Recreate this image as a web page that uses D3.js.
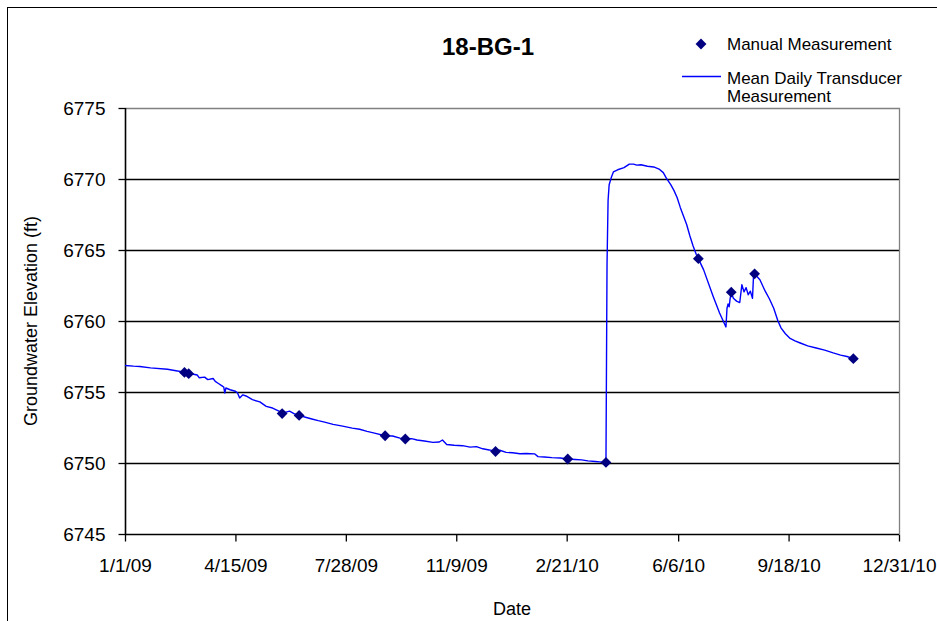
<!DOCTYPE html>
<html><head><meta charset="utf-8">
<script src="https://cdn.jsdelivr.net/npm/d3@7"></script>
<style>
html,body{margin:0;padding:0;background:#fff;overflow:hidden;}
svg{display:block;font-family:"Liberation Sans",Arial,sans-serif;}
</style></head>
<body>
<svg id="chart" width="937" height="621"></svg>
<script>
const title = "18-BG-1";
const xTitle = "Date";
const yTitle = "Groundwater Elevation (ft)";
const legendManual = "Manual Measurement";
const legendLine = ["Mean Daily Transducer", "Measurement"];

const xTickLabels = ["1/1/09","4/15/09","7/28/09","11/9/09","2/21/10","6/6/10","9/18/10","12/31/10"];
const yTickValues = [6745,6750,6755,6760,6765,6770,6775];

const manualDates = ["2009-02-26","2009-03-02","2009-05-29","2009-06-14","2009-09-03","2009-09-22","2009-12-16","2010-02-22","2010-03-30","2010-06-25","2010-07-26","2010-08-17","2010-11-18"];
const manualValues = [6756.38,6756.29,6753.48,6753.35,6751.92,6751.69,6750.81,6750.28,6750.04,6764.39,6762.03,6763.32,6757.35];

const transducerDates = [
"2009-01-01","2009-01-09","2009-01-15","2009-01-25","2009-02-10","2009-02-18","2009-02-26","2009-03-03","2009-03-10","2009-03-12",
"2009-03-17","2009-03-20","2009-03-25","2009-03-27","2009-03-30","2009-04-02","2009-04-04","2009-04-05","2009-04-06","2009-04-10",
"2009-04-15","2009-04-17","2009-04-19","2009-04-22","2009-04-25","2009-05-01","2009-05-08","2009-05-14","2009-05-20","2009-05-27",
"2009-05-31","2009-06-05","2009-06-10","2009-06-14","2009-06-20","2009-06-26","2009-07-02","2009-07-08","2009-07-16","2009-07-25",
"2009-08-03","2009-08-10","2009-08-17","2009-08-24","2009-09-03","2009-09-10","2009-09-17","2009-09-22","2009-09-28","2009-10-03",
"2009-10-10","2009-10-18","2009-10-24","2009-10-27","2009-10-31","2009-11-07","2009-11-15","2009-11-22","2009-11-28","2009-12-04",
"2009-12-10","2009-12-16","2009-12-20","2009-12-26","2010-01-01","2010-01-08","2010-01-14","2010-01-22","2010-01-25","2010-01-31",
"2010-02-07","2010-02-15","2010-02-22","2010-03-01","2010-03-07","2010-03-13","2010-03-20","2010-03-24","2010-03-30","2010-03-31",
"2010-04-01","2010-04-02","2010-04-04","2010-04-06","2010-04-10","2010-04-16","2010-04-21","2010-04-25","2010-04-28","2010-05-02",
"2010-05-08","2010-05-14","2010-05-19","2010-05-23","2010-05-26","2010-05-30","2010-06-02","2010-06-05","2010-06-08","2010-06-11",
"2010-06-14","2010-06-17","2010-06-20","2010-06-23","2010-06-25","2010-06-30","2010-07-09","2010-07-15","2010-07-21","2010-07-22",
"2010-07-23","2010-07-24","2010-07-25","2010-07-26","2010-07-28","2010-07-31","2010-08-03","2010-08-05","2010-08-07","2010-08-09",
"2010-08-11","2010-08-13","2010-08-15","2010-08-16","2010-08-17","2010-08-22","2010-08-27","2010-08-31","2010-09-04","2010-09-08",
"2010-09-11","2010-09-15","2010-09-19","2010-09-24","2010-09-29","2010-10-06","2010-10-14","2010-10-22","2010-10-30","2010-11-06",
"2010-11-12","2010-11-18"];
const transducerValues = [
6756.87,6756.82,6756.80,6756.70,6756.60,6756.50,6756.40,6756.30,6756.20,6756.00,
6756.05,6755.87,6755.95,6755.75,6755.60,6755.45,6755.35,6754.93,6755.28,6755.16,
6755.05,6754.93,6754.58,6754.80,6754.72,6754.46,6754.30,6753.99,6753.87,6753.62,
6753.55,6753.65,6753.45,6753.35,6753.22,6753.10,6752.98,6752.88,6752.72,6752.60,
6752.46,6752.38,6752.23,6752.10,6751.92,6751.90,6751.75,6751.69,6751.72,6751.62,
6751.55,6751.45,6751.48,6751.62,6751.30,6751.25,6751.22,6751.12,6751.15,6751.00,
6750.92,6750.82,6750.90,6750.75,6750.72,6750.65,6750.67,6750.64,6750.45,6750.42,
6750.38,6750.35,6750.28,6750.25,6750.22,6750.15,6750.11,6750.08,6750.04,6764.00,
6768.50,6769.60,6770.10,6770.50,6770.65,6770.80,6771.05,6771.05,6770.98,6771.00,
6770.90,6770.85,6770.70,6770.45,6770.05,6769.60,6769.20,6768.70,6768.00,6767.40,
6766.80,6766.00,6765.30,6764.70,6764.39,6763.60,6761.73,6760.56,6759.58,6760.90,
6761.20,6761.00,6761.60,6762.00,6761.60,6761.40,6761.30,6762.55,6762.05,6762.35,
6761.85,6762.10,6761.60,6763.20,6763.32,6762.90,6762.10,6761.55,6760.90,6760.00,
6759.50,6759.10,6758.80,6758.60,6758.45,6758.25,6758.10,6757.95,6757.75,6757.60,
6757.50,6757.35];

const parseISO = d3.timeParse("%Y-%m-%d");
const parseTick = d3.timeParse("%m/%d/%y");
const fmtTick = d3.timeFormat("%-m/%-d/%y");
const tickDates = xTickLabels.map(parseTick);

const svg = d3.select("#chart");
const L = 125, R = 899, T = 108, B = 534;

// outer chart frame
svg.append("rect").attr("x",7.5).attr("y",7.5).attr("width",1000).attr("height",1000)
  .attr("fill","none").attr("stroke","#000").attr("stroke-width",1);

const x = d3.scaleTime().domain([tickDates[0], tickDates[tickDates.length-1]]).range([L, R]);
const y = d3.scaleLinear().domain([yTickValues[0], yTickValues[yTickValues.length-1]]).range([B, T]);

// gridlines
svg.append("g").selectAll("line").data(yTickValues.filter(v => v !== yTickValues[0] && v !== yTickValues[yTickValues.length-1]))
  .join("line").attr("x1",L).attr("x2",R).attr("y1",d=>Math.round(y(d))+0.5).attr("y2",d=>Math.round(y(d))+0.5)
  .attr("stroke","#000").attr("stroke-width",1.3);
// plot border top/right (gray)
svg.append("path").attr("d",`M${L},${Math.round(T)+0.5}H${R+0.5}V${B}`)
  .attr("fill","none").attr("stroke","#808080").attr("stroke-width",1.3);

// axes
const yAxis = d3.axisLeft(y).tickValues(yTickValues).tickSize(7).tickPadding(13).tickFormat(d3.format("d"));
const gy = svg.append("g").attr("transform",`translate(${L+0.5},0)`).call(yAxis);
const xAxis = d3.axisBottom(x).tickValues(tickDates).tickSize(7).tickPadding(17).tickFormat(fmtTick);
const gx = svg.append("g").attr("transform",`translate(0,${Math.round(B)+0.5})`).call(xAxis);
[gx, gy].forEach(g => {
  g.select(".domain").attr("stroke","#000").attr("stroke-width",1.6);
  g.selectAll(".tick line").attr("stroke","#000").attr("stroke-width",1.3);
  g.selectAll(".tick text").attr("fill","#000").attr("font-size",19).attr("font-family","Liberation Sans, Arial, sans-serif");
});
gx.select(".domain").attr("d",`M${L},0H${R}`);
gy.select(".domain").attr("d",`M0,${T}V${B}`);

// transducer line
const tData = transducerDates.map((d,i)=>({date:parseISO(d), value:transducerValues[i]}));
svg.append("path").datum(tData)
  .attr("fill","none").attr("stroke","#0000FF").attr("stroke-width",1.4).attr("stroke-linejoin","round")
  .attr("d", d3.line().x(d=>x(d.date)).y(d=>y(d.value)));

// manual points
const mData = manualDates.map((d,i)=>({date:parseISO(d), value:manualValues[i]}));
const diamond = d3.symbol().type(d3.symbolDiamond2).size(75);
svg.append("g").selectAll("path").data(mData).join("path")
  .attr("transform",d=>`translate(${x(d.date)},${y(d.value)})`)
  .attr("d",diamond).attr("fill","#000080");

// titles
svg.append("text").attr("x",488).attr("y",55).attr("text-anchor","middle")
  .attr("font-size",24).attr("font-weight","bold").text(title);
svg.append("text").attr("x",512).attr("y",615).attr("text-anchor","middle")
  .attr("font-size",18).text(xTitle);
svg.append("text").attr("transform","translate(37,321) rotate(-90)").attr("text-anchor","middle")
  .attr("font-size",18).text(yTitle);

// legend
const lg = svg.append("g");
lg.append("path").attr("transform","translate(701,44)").attr("d",diamond).attr("fill","#000080");
lg.append("text").attr("x",727).attr("y",50).attr("font-size",17).text(legendManual);
lg.append("line").attr("x1",682).attr("x2",721).attr("y1",76.5).attr("y2",76.5).attr("stroke","#0000FF").attr("stroke-width",1.5);
lg.append("text").attr("x",727).attr("y",84).attr("font-size",17).text(legendLine[0]);
lg.append("text").attr("x",727).attr("y",102).attr("font-size",17).text(legendLine[1]);
</script>
</body></html>
